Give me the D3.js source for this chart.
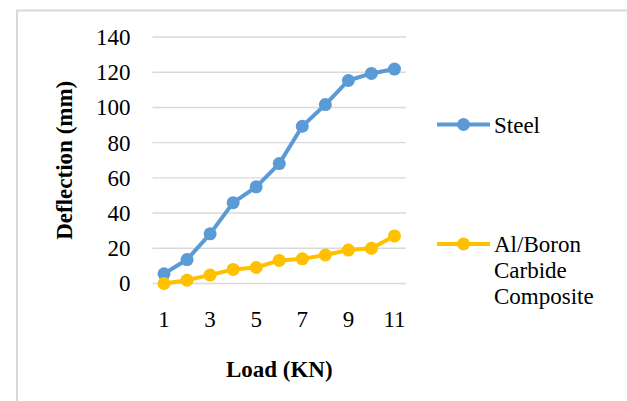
<!DOCTYPE html>
<html>
<head>
<meta charset="utf-8">
<script src="https://cdn.jsdelivr.net/npm/d3@7"></script>
<style>
  html, body { margin: 0; padding: 0; background: #fff; }
  svg { display: block; }
</style>
</head>
<body>
<svg id="chart" width="627" height="401"></svg>
<script>
// Load steps (KN) and measured deflection (mm) for each material
const loads = [1, 2, 3, 4, 5, 6, 7, 8, 9, 10, 11];
const steel = [5.5, 13.6, 28.2, 45.9, 54.9, 68.1, 89.3, 101.6, 115.3, 119.3, 121.8];
const alBoron = [0, 1.9, 4.8, 8, 9.1, 13.1, 14, 16.2, 19, 20, 27];
const yTicks = [0, 20, 40, 60, 80, 100, 120, 140];
const xTickLabels = [1, 3, 5, 7, 9, 11];
const seriesNames = ["Steel", "Al/Boron Carbide Composite"];
const seriesColors = ["#5b9bd5", "#ffc000"];

const FONT = "'Liberation Serif', 'Times New Roman', serif";

const svg = d3.select("#chart");

// Outer chart frame (only top and left edges fall inside the view)
svg.append("rect")
  .attr("x", 17).attr("y", 10.5)
  .attr("width", 700).attr("height", 500)
  .attr("fill", "none")
  .attr("stroke", "#d9d9d9")
  .attr("stroke-width", 2);

const plot = { left: 152.5, right: 406, top: 37, bottom: 283.5 };

const x = d3.scaleBand()
  .domain(loads)
  .range([plot.left, plot.right]);
const xc = d => x(d) + x.bandwidth() / 2;

const y = d3.scaleLinear()
  .domain([0, 140])
  .range([plot.bottom, plot.top]);

// Horizontal gridlines
svg.append("g")
  .selectAll("line")
  .data(yTicks)
  .join("line")
  .attr("x1", plot.left).attr("x2", plot.right)
  .attr("y1", d => y(d)).attr("y2", d => y(d))
  .attr("stroke", "#d9d9d9")
  .attr("stroke-width", 1.4);

// Y axis tick labels
const yAxis = d3.axisLeft(y).tickValues(yTicks).tickSize(0).tickPadding(0);
const gy = svg.append("g")
  .attr("transform", `translate(${plot.left - 22},0)`)
  .call(yAxis);
gy.select(".domain").remove();
gy.selectAll("text")
  .style("font-family", FONT)
  .style("font-size", "23px")
  .attr("fill", "#000")
  .attr("dy", "0.32em");

// X axis tick labels (every other load step)
const xAxis = d3.axisBottom(x).tickValues(xTickLabels).tickSize(0).tickPadding(0);
const gx = svg.append("g")
  .attr("transform", `translate(0,${plot.bottom + 27})`)
  .call(xAxis);
gx.select(".domain").remove();
gx.selectAll("text")
  .style("font-family", FONT)
  .style("font-size", "23px")
  .attr("fill", "#000")
  .attr("dy", "0.71em");

// Axis titles
svg.append("text")
  .attr("x", (plot.left + plot.right) / 2)
  .attr("y", 376.5)
  .attr("text-anchor", "middle")
  .style("font-family", FONT)
  .style("font-size", "23px")
  .style("font-weight", "bold")
  .text("Load (KN)");

svg.append("text")
  .attr("transform", `translate(72,${(plot.top + plot.bottom) / 2}) rotate(-90)`)
  .attr("text-anchor", "middle")
  .style("font-family", FONT)
  .style("font-size", "23px")
  .style("font-weight", "bold")
  .text("Deflection (mm)");

// Series lines and markers
const line = d3.line()
  .x((d, i) => xc(loads[i]))
  .y(d => y(d));

[steel, alBoron].forEach((vals, si) => {
  const g = svg.append("g");
  g.append("path")
    .datum(vals)
    .attr("d", line)
    .attr("fill", "none")
    .attr("stroke", seriesColors[si])
    .attr("stroke-width", 4)
    .attr("stroke-linejoin", "round");
  g.selectAll("circle")
    .data(vals)
    .join("circle")
    .attr("cx", (d, i) => xc(loads[i]))
    .attr("cy", d => y(d))
    .attr("r", 6.5)
    .attr("fill", seriesColors[si]);
});

// Legend
const legendItems = [
  { y: 124.5, lines: ["Steel"] },
  { y: 244, lines: ["Al/Boron", "Carbide", "Composite"] }
];
legendItems.forEach((item, i) => {
  const g = svg.append("g");
  g.append("line")
    .attr("x1", 437).attr("x2", 490)
    .attr("y1", item.y).attr("y2", item.y)
    .attr("stroke", seriesColors[i])
    .attr("stroke-width", 4);
  g.append("circle")
    .attr("cx", 463.5).attr("cy", item.y)
    .attr("r", 6.5)
    .attr("fill", seriesColors[i]);
  const t = g.append("text")
    .attr("x", 494)
    .attr("y", item.y + 8)
    .style("font-family", FONT)
    .style("font-size", "23px")
    .attr("fill", "#000");
  item.lines.forEach((ln, k) => {
    t.append("tspan")
      .attr("x", 494)
      .attr("dy", k === 0 ? 0 : 26.2)
      .text(ln);
  });
});
</script>
</body>
</html>
